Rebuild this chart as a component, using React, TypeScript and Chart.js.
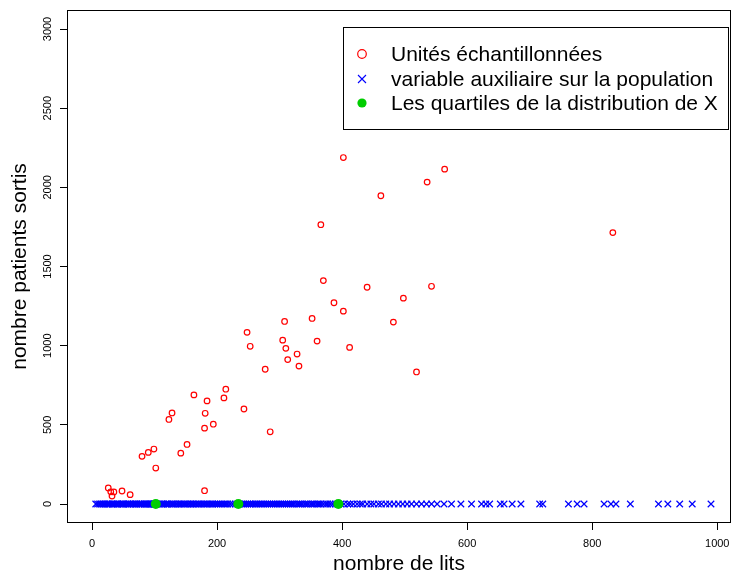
import React, { useEffect, useRef } from "react";
import { Chart, registerables } from "chart.js";

Chart.register(...registerables);

// Sampled units: number of beds (x) and discharged patients (y)
const sampleLits = [
  26, 30, 35, 32, 48, 61, 180, 102, 80, 90, 99, 142, 152, 123, 128, 180, 194, 181, 184, 163,
  211, 214, 243, 285, 402, 564, 536, 462, 366, 370, 440, 543, 498, 387, 402, 482, 308, 352,
  248, 253, 305, 310, 360, 328, 412, 313, 331, 277, 519, 833,
];
const samplePatients = [
  101, 77, 76, 50, 82, 59, 84, 227, 301, 326, 347, 321, 376, 534, 575, 479, 504, 573, 651, 689,
  670, 725, 600, 456, 2188, 2115, 2033, 1947, 1764, 1411, 1369, 1375, 1300, 1271, 1218, 1149, 1153, 1172,
  1084, 996, 1035, 983, 1029, 947, 989, 912, 871, 851, 834, 1714,
];

// Auxiliary variable on the whole population (number of beds), plotted at y = 0
const populationLits = [
  6, 9, 12, 14, 17, 19, 21, 24, 25, 27, 29, 32, 33, 35, 38, 40, 41, 44, 46, 48,
  50, 51, 54, 57, 58, 60, 62, 65, 66, 69, 71, 72, 75, 77, 78, 80, 83, 84, 86, 88,
  90, 91, 93, 95, 96, 98, 99, 100, 101, 102,
  104, 106, 108, 111, 113, 115, 118, 120, 121, 124, 127, 129, 131, 134, 136, 139, 141, 143, 146, 148,
  150, 153, 155, 158, 160, 162, 165, 167, 170, 172, 175, 178, 180, 183, 185, 188, 191, 193, 196, 199,
  202, 205, 208, 211, 214, 217, 221, 225, 229, 233,
  236, 240, 243, 246, 249, 252, 255, 258, 261, 263, 266, 269, 272, 275, 278, 281, 284, 287, 290, 293,
  296, 299, 302, 305, 308, 311, 314, 317, 320, 323, 327, 330, 333, 336, 340, 343, 346, 350, 353, 356,
  360, 363, 366, 370, 374, 377, 381, 385, 389, 393,
  398, 403, 409, 413, 418, 424, 429, 433, 440, 446, 451, 458, 463, 470, 476, 483, 490, 497, 504, 511,
  519, 527, 535, 543, 552, 563, 575, 590, 607,
  623, 630, 636, 653, 659, 672, 686, 716, 721, 762, 776, 787, 819, 830, 838, 861, 906, 921, 940, 960, 990,
];
const populationZero = populationLits.map(() => 0);

// Quartiles of X
const quartileLits = [102, 234, 394];
const quartileZero = [0, 0, 0];

const xTicks = [0, 200, 400, 600, 800, 1000];
const yTicks = [0, 500, 1000, 1500, 2000, 2500, 3000];

const legendLabels = [
  "Unités échantillonnées",
  "variable auxiliaire sur la population",
  "Les quartiles de la distribution de X",
];
const xTitle = "nombre de lits";
const yTitle = "nombre patients sortis";

const FONT = "'Liberation Sans', Arial, Helvetica, sans-serif";
const RED = "#FF0000";
const BLUE = "#0000FF";
const GREEN = "#00CD00";

const framePlugin = {
  id: "frameBox",
  afterDraw(chart: any) {
    const { ctx, chartArea } = chart;
    ctx.save();
    ctx.strokeStyle = "#000";
    ctx.lineWidth = 1;
    ctx.strokeRect(
      chartArea.left + 0.5,
      chartArea.top + 0.5,
      chartArea.right - chartArea.left - 1,
      chartArea.bottom - chartArea.top - 1
    );
    ctx.restore();
  },
};

const legendPlugin = {
  id: "floatLegend",
  afterDraw(chart: any) {
    const { ctx, chartArea } = chart;
    const boxRight = chartArea.right - 3;
    const boxLeft = boxRight - 385;
    const boxTop = chartArea.top + 17;
    const boxH = 102;
    ctx.save();
    ctx.fillStyle = "#fff";
    ctx.fillRect(boxLeft, boxTop, boxRight - boxLeft, boxH);
    ctx.strokeStyle = "#000";
    ctx.lineWidth = 1;
    ctx.strokeRect(boxLeft + 0.5, boxTop + 0.5, boxRight - boxLeft, boxH);
    const symX = boxLeft + 19;
    const textX = boxLeft + 48;
    const rowYs = [boxTop + 27, boxTop + 52, boxTop + 76];
    ctx.lineWidth = 1.2;
    ctx.strokeStyle = RED;
    ctx.beginPath();
    ctx.arc(symX, rowYs[0], 4.3, 0, Math.PI * 2);
    ctx.stroke();
    ctx.strokeStyle = BLUE;
    ctx.lineWidth = 1.1;
    ctx.beginPath();
    const d = 4;
    ctx.moveTo(symX - d, rowYs[1] - d);
    ctx.lineTo(symX + d, rowYs[1] + d);
    ctx.moveTo(symX - d, rowYs[1] + d);
    ctx.lineTo(symX + d, rowYs[1] - d);
    ctx.stroke();
    ctx.fillStyle = GREEN;
    ctx.beginPath();
    ctx.arc(symX, rowYs[2], 4.6, 0, Math.PI * 2);
    ctx.fill();
    ctx.fillStyle = "#000";
    ctx.font = `21px ${FONT}`;
    ctx.textBaseline = "middle";
    ctx.textAlign = "left";
    legendLabels.forEach((t, i) => ctx.fillText(t, textX, rowYs[i] + 1));
    ctx.restore();
  },
};

export default function App() {
  const canvasRef = useRef<HTMLCanvasElement | null>(null);

  useEffect(() => {
    if (!canvasRef.current) return;
    Chart.defaults.font.family = FONT;
    const chart = new Chart(canvasRef.current, {
      type: "scatter",
      data: {
        datasets: [
          {
            label: legendLabels[2],
            data: quartileLits.map((x, i) => ({ x, y: quartileZero[i] })),
            pointStyle: "circle",
            pointRadius: 5,
            pointBorderWidth: 0,
            backgroundColor: GREEN,
            borderColor: GREEN,
          },
          {
            label: legendLabels[0],
            data: sampleLits.map((x, i) => ({ x, y: samplePatients[i] })),
            pointStyle: "circle",
            pointRadius: 2.8,
            pointBorderWidth: 1.2,
            backgroundColor: "rgba(0,0,0,0)",
            borderColor: RED,
          },
          {
            label: legendLabels[1],
            data: populationLits.map((x, i) => ({ x, y: populationZero[i] })),
            pointStyle: "crossRot",
            pointRadius: 4.6,
            pointBorderWidth: 1.2,
            backgroundColor: BLUE,
            borderColor: BLUE,
          },
        ],
      },
      options: {
        responsive: false,
        animation: false,
        events: [],
        layout: { autoPadding: false, padding: { top: 10, right: 2, left: 0, bottom: 0 } },
        plugins: {
          legend: { display: false },
          tooltip: { enabled: false },
        },
        scales: {
          x: {
            type: "linear",
            min: -40,
            max: 1022,
            afterBuildTicks: (scale: any) => {
              scale.ticks = xTicks.map((v) => ({ value: v }));
            },
            afterFit: (scale: any) => {
              scale.height = 53;
              scale.paddingLeft = 0;
              scale.paddingRight = 0;
            },
            border: { display: false },
            grid: {
              drawOnChartArea: false,
              drawTicks: true,
              tickLength: 7,
              color: "#000",
              lineWidth: 1,
            },
            ticks: {
              color: "#000",
              font: { size: 11, family: FONT },
              padding: 7,
              maxRotation: 0,
              autoSkip: false,
              callback: (v: any) => String(v),
            },
            title: {
              display: true,
              text: xTitle,
              color: "#000",
              font: { size: 21, family: FONT, lineHeight: 1.1 },
              padding: { top: 0, bottom: 0 },
            },
          },
          y: {
            type: "linear",
            min: -120,
            max: 3120,
            afterBuildTicks: (scale: any) => {
              scale.ticks = yTicks.map((v) => ({ value: v }));
            },
            afterFit: (scale: any) => {
              scale.width = 67;
              scale.paddingTop = 0;
              scale.paddingBottom = 0;
            },
            border: { display: false },
            grid: {
              drawOnChartArea: false,
              drawTicks: true,
              tickLength: 7,
              color: "#000",
              lineWidth: 1,
            },
            ticks: {
              color: "#000",
              font: { size: 11, family: FONT },
              padding: 0,
              minRotation: 90,
              maxRotation: 90,
              crossAlign: "center",
              autoSkip: false,
              callback: (v: any) => String(v),
            },
            title: {
              display: true,
              text: yTitle,
              color: "#000",
              font: { size: 21, family: FONT, lineHeight: 1.1 },
              padding: { top: 9, bottom: 0 },
            },
          },
        },
      },
      plugins: [framePlugin, legendPlugin],
    } as any);
    return () => chart.destroy();
  }, []);

  return (
    <div style={{ position: "absolute", left: 0, top: 0, width: 733, height: 576, background: "#fff" }}>
      <canvas ref={canvasRef} width={733} height={576} style={{ display: "block", width: 733, height: 576 }} />
    </div>
  );
}
